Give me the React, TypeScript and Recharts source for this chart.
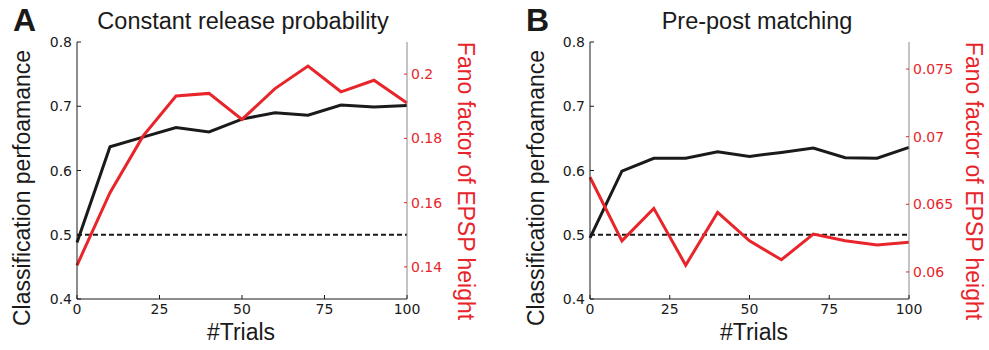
import React from "react"
import { LineChart, Line, XAxis, YAxis, ReferenceLine } from "recharts"

const trials = [0, 10, 20, 30, 40, 50, 60, 70, 80, 90, 100]
const perfA = [0.488, 0.637, 0.652, 0.667, 0.66, 0.68, 0.69, 0.686, 0.702, 0.699, 0.701]
const fanoA = [0.1405, 0.1631, 0.1807, 0.1932, 0.194, 0.1859, 0.1955, 0.2025, 0.1945, 0.1981, 0.191]
const perfB = [0.495, 0.599, 0.619, 0.619, 0.629, 0.622, 0.628, 0.635, 0.62, 0.619, 0.636]
const fanoB = [0.067, 0.0623, 0.0647, 0.0605, 0.0644, 0.0623, 0.0609, 0.0628, 0.0623, 0.062, 0.0622]

const xTicks = [0, 25, 50, 75, 100]
const perfTicks = [0.4, 0.5, 0.6, 0.7, 0.8]
const fanoTicksA = [0.14, 0.16, 0.18, 0.2]
const fanoTicksB = [0.06, 0.065, 0.07, 0.075]

const RED = "#e8252b"
const INK = "#1a1a1a"
const TICK_FONT = "DejaVu Sans"
const LABEL_FONT = "Liberation Sans, Arial, sans-serif"

const BottomTick = (props: any) => {
  const { x, y, payload } = props
  return (
    <g>
      <line x1={x} y1={y} x2={x} y2={y - 4} stroke={INK} />
      <text x={x} y={y + 15} textAnchor="middle" fontFamily={TICK_FONT} fontSize={14} fill={INK}>
        {payload.value}
      </text>
    </g>
  )
}

const TopTick = (props: any) => {
  const { x, y } = props
  return <line x1={x} y1={y} x2={x} y2={y + 4} stroke={INK} />
}

const LeftTick = (props: any) => {
  const { x, y, payload } = props
  return (
    <g>
      <line x1={x} y1={y} x2={x + 4} y2={y} stroke={INK} />
      <text x={x - 5} y={y} dy="0.36em" textAnchor="end" fontFamily={TICK_FONT} fontSize={14} fill={INK}>
        {payload.value.toFixed(1)}
      </text>
    </g>
  )
}

const RightTick = (props: any) => {
  const { x, y, payload } = props
  return (
    <g>
      <line x1={x} y1={y} x2={x - 3} y2={y} stroke={RED} />
      <text x={x + 4} y={y} dy="0.36em" textAnchor="start" fontFamily={TICK_FONT} fontSize={14} fill={RED}>
        {String(payload.value)}
      </text>
    </g>
  )
}

function Panel({
  perf,
  fano,
  fanoDomain,
  fanoTicks,
  width,
  leftW,
  rightW,
}: {
  perf: number[]
  fano: number[]
  fanoDomain: [number, number]
  fanoTicks: number[]
  width: number
  leftW: number
  rightW: number
}) {
  const data = trials.map((t, i) => ({ t, perf: perf[i], fano: fano[i] }))
  return (
    <LineChart width={width} height={350} data={data} margin={{ top: 42, right: 0, bottom: 0, left: 0 }}>
      <XAxis
        dataKey="t"
        type="number"
        domain={[0, 100]}
        ticks={xTicks}
        height={51}
        tickSize={0}
        tickMargin={0}
        tickLine={false}
        tick={<BottomTick />}
        axisLine={{ stroke: INK }}
        interval={0}
      />
      <XAxis
        xAxisId="top"
        orientation="top"
        dataKey="t"
        type="number"
        domain={[0, 100]}
        ticks={xTicks}
        height={0}
        tickSize={0}
        tickMargin={0}
        tickLine={false}
        tick={<TopTick />}
        axisLine={{ stroke: INK }}
        interval={0}
      />
      <YAxis
        yAxisId="left"
        domain={[0.4, 0.8]}
        ticks={perfTicks}
        width={leftW}
        tickSize={0}
        tickMargin={0}
        tickLine={false}
        tick={<LeftTick />}
        axisLine={{ stroke: INK }}
        interval={0}
      />
      <YAxis
        yAxisId="right"
        orientation="right"
        domain={fanoDomain}
        ticks={fanoTicks}
        width={rightW}
        tickSize={0}
        tickMargin={0}
        tickLine={false}
        tick={<RightTick />}
        axisLine={{ stroke: "#8a8a8a" }}
        interval={0}
        allowDataOverflow
      />
      <ReferenceLine yAxisId="left" y={0.5} stroke={INK} strokeWidth={2} strokeDasharray="5 3" />
      <Line yAxisId="left" dataKey="perf" stroke={INK} strokeWidth={3} dot={false} isAnimationActive={false} />
      <Line yAxisId="right" dataKey="fano" stroke={RED} strokeWidth={3} dot={false} isAnimationActive={false} />
    </LineChart>
  )
}

export default function App() {
  return (
    <div style={{ position: "absolute", left: 0, top: 0, width: 989, height: 350, background: "#fff" }}>
      <div style={{ position: "absolute", left: 0, top: 0 }}>
        <Panel perf={perfA} fano={fanoA} fanoDomain={[0.13, 0.21]} fanoTicks={fanoTicksA} width={494} leftW={77} rightW={87} />
      </div>
      <div style={{ position: "absolute", left: 494, top: 0 }}>
        <Panel perf={perfB} fano={fanoB} fanoDomain={[0.058, 0.077]} fanoTicks={fanoTicksB} width={495} leftW={96} rightW={80} />
      </div>
      <svg width={989} height={350} style={{ position: "absolute", left: 0, top: 0, pointerEvents: "none" }}>
        <g fontFamily={LABEL_FONT}>
          <text x={13} y={31} fontSize={32} fontWeight="bold" fill={INK}>A</text>
          <text x={243} y={29} fontSize={23.5} textAnchor="middle" fill={INK}>Constant release probability</text>
          <text x={526} y={31} fontSize={32} fontWeight="bold" fill={INK}>B</text>
          <text x={757} y={29} fontSize={23.5} textAnchor="middle" fill={INK}>Pre-post matching</text>

          <text x={30} y={188} fontSize={23} textAnchor="middle" fill={INK} transform="rotate(-90 30 188)">
            Classification perfoamance
          </text>
          <text x={458} y={181} fontSize={23} textAnchor="middle" fill={RED} transform="rotate(90 458 181)">
            Fano factor of EPSP height
          </text>
          <text x={544} y={188} fontSize={23} textAnchor="middle" fill={INK} transform="rotate(-90 544 188)">
            Classification perfoamance
          </text>
          <text x={966} y={181} fontSize={23} textAnchor="middle" fill={RED} transform="rotate(90 966 181)">
            Fano factor of EPSP height
          </text>

          <text x={241} y={340} fontSize={23} textAnchor="middle" fill={INK}>#Trials</text>
          <text x={754} y={340} fontSize={23} textAnchor="middle" fill={INK}>#Trials</text>
        </g>
      </svg>
    </div>
  )
}
